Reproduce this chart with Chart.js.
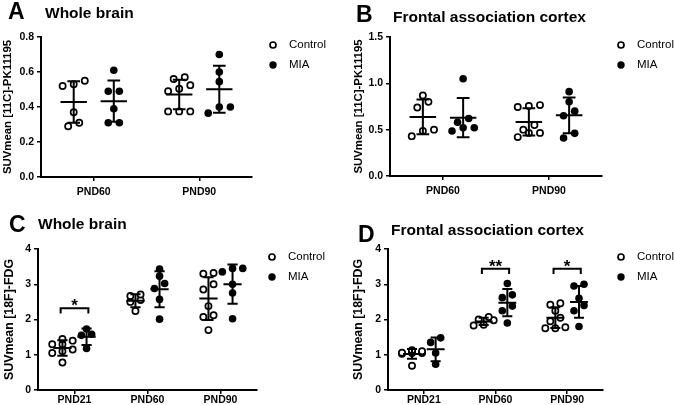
<!DOCTYPE html>
<html>
<head>
<meta charset="utf-8">
<script src="https://cdn.jsdelivr.net/npm/chart.js@4.4.1/dist/chart.umd.min.js"></script>
<style>
  html, body { margin: 0; padding: 0; background: #fff; }
  #wrap { position: relative; width: 676px; height: 405px; overflow: hidden; }
  canvas { position: absolute; }
</style>
</head>
<body>
<div id="wrap">
  <canvas id="panelA" width="338" height="200" style="left:0;top:0"></canvas>
  <canvas id="panelB" width="338" height="200" style="left:338px;top:0"></canvas>
  <canvas id="panelC" width="338" height="205" style="left:0;top:200px"></canvas>
  <canvas id="panelD" width="338" height="205" style="left:338px;top:200px"></canvas>
</div>
<script>
const groupNames = ["Control", "MIA"];
const daysPk = ["PND60", "PND90"];
const daysFdg = ["PND21", "PND60", "PND90"];
const ticksPkWhole = [0, 0.2, 0.4, 0.6, 0.8];
const ticksPkFrontal = [0, 0.5, 1.0, 1.5];
const ticksFdg = [0, 1, 2, 3, 4];

// SUVmean [11C]-PK11195, one inner array per day
const pkWholeControl = [
  [0.29, 0.31, 0.37, 0.52, 0.53, 0.55],
  [0.375, 0.375, 0.375, 0.49, 0.505, 0.525, 0.56, 0.57],
];
const pkWholeMia = [
  [0.31, 0.31, 0.39, 0.49, 0.49, 0.61],
  [0.365, 0.40, 0.40, 0.545, 0.60, 0.70],
];
const pkFrontalControl = [
  [0.43, 0.485, 0.50, 0.74, 0.80, 0.87],
  [0.42, 0.465, 0.465, 0.50, 0.55, 0.745, 0.755, 0.765],
];
const pkFrontalMia = [
  [0.485, 0.52, 0.52, 0.58, 0.62, 1.05],
  [0.41, 0.46, 0.65, 0.70, 0.80, 0.91],
];

// SUVmean [18F]-FDG
const fdgWholeControl = [
  [0.78, 1.05, 1.1, 1.15, 1.3, 1.3, 1.4, 1.45],
  [2.24, 2.50, 2.55, 2.67, 2.71],
  [1.70, 2.07, 2.12, 2.38, 2.85, 3.0, 3.30, 3.32],
];
const fdgWholeMia = [
  [1.18, 1.55, 1.58, 1.73],
  [2.01, 2.57, 2.88, 3.02, 3.23, 3.43],
  [2.02, 2.75, 3.0, 3.35, 3.45, 3.45],
];
const fdgFrontalControl = [
  [0.69, 1.03, 1.05, 1.05, 1.06, 1.08, 1.1, 1.13],
  [1.83, 1.85, 1.98, 2.0, 2.07],
  [1.75, 1.75, 1.78, 1.95, 2.05, 2.25, 2.42, 2.46],
];
const fdgFrontalMia = [
  [0.73, 1.05, 1.35, 1.48],
  [1.9, 2.25, 2.38, 2.62, 2.70, 3.02],
  [1.8, 2.25, 2.4, 2.6, 2.95, 3.0],
];

// significance brackets: [day index, bracket level, label]
const sigFdgWhole = [[0, 2.32, "*"]];
const sigFdgFrontal = [[1, 3.44, "**"], [2, 3.44, "*"]];

const FONT = '"Liberation Sans", Arial, sans-serif';

const mean = (a) => a.reduce((s, v) => s + v, 0) / a.length;
const sd = (a) => {
  const m = mean(a);
  return Math.sqrt(a.reduce((s, v) => s + (v - m) ** 2, 0) / (a.length - 1));
};

// points that land on the same row go side by side, like a dot plot
function swarm(values, center, rowH, step, maxRow) {
  const sorted = [...values].sort((a, b) => a - b);
  const out = [];
  let i = 0;
  while (i < sorted.length) {
    let j = i;
    while (j + 1 < sorted.length && j - i + 1 < maxRow && sorted[j + 1] - sorted[i] < rowH) j++;
    const k = j - i + 1;
    for (let n = 0; n < k; n++) out.push({ x: center + (n - (k - 1) / 2) * step, y: sorted[i + n] });
    i = j + 1;
  }
  return out;
}

function errorBars(groups, offset, barHalf, capHalf) {
  const pts = [];
  groups.forEach((vals, i) => {
    const x = i + offset, m = mean(vals), s = sd(vals);
    pts.push({ x: x - barHalf, y: m }, { x: x + barHalf, y: m }, { x, y: null });
    pts.push({ x, y: m - s }, { x, y: m + s }, { x, y: null });
    pts.push({ x: x - capHalf, y: m + s }, { x: x + capHalf, y: m + s }, { x, y: null });
    pts.push({ x: x - capHalf, y: m - s }, { x: x + capHalf, y: m - s }, { x, y: null });
  });
  return pts;
}

function brackets(sig, half, drop) {
  const pts = [];
  sig.forEach(([i, level]) => {
    pts.push({ x: i - half, y: level - drop }, { x: i - half, y: level },
      { x: i + half, y: level }, { x: i + half, y: level - drop }, { x: i, y: null });
  });
  return pts;
}

const decor = {
  id: "decor",
  afterDraw(chart, args, o) {
    const ctx = chart.ctx;
    ctx.save();
    ctx.fillStyle = "#000";
    ctx.strokeStyle = "#000";
    ctx.textAlign = "left";
    ctx.textBaseline = "alphabetic";
    ctx.font = `bold 23px ${FONT}`;
    ctx.fillText(o.letter, o.letterX, o.letterY);
    ctx.font = `bold 15.5px ${FONT}`;
    ctx.fillText(o.title, o.titleX, o.titleY);

    ctx.font = `11.5px ${FONT}`;
    ctx.textBaseline = "middle";
    groupNames.forEach((name, i) => {
      const y = o.legendY + i * 20;
      ctx.beginPath();
      ctx.arc(o.legendX, y, i === 0 ? 3 : 3.7, 0, Math.PI * 2);
      if (i === 0) {
        ctx.fillStyle = "#fff";
        ctx.fill();
        ctx.lineWidth = 1.7;
        ctx.stroke();
      } else {
        ctx.fillStyle = "#000";
        ctx.fill();
      }
      ctx.fillStyle = "#000";
      ctx.fillText(name, o.legendX + 16, y);
    });

    const xs = chart.scales.x, ys = chart.scales.y;
    ctx.font = `bold 17px ${FONT}`;
    ctx.textAlign = "center";
    ctx.textBaseline = "alphabetic";
    (o.sig || []).forEach(([i, level, label]) => {
      ctx.fillText(label, xs.getPixelForValue(i), ys.getPixelForValue(level) + 3);
    });
    ctx.restore();
  },
};
Chart.register(decor);

function makePanel(id, cfg) {
  const n = cfg.days.length;
  const axisFont = { family: FONT, size: 10.5, weight: "bold" };
  const gridStyle = { drawOnChartArea: false, color: "#000", tickLength: 4, lineWidth: 1.5 };
  const borderStyle = { color: "#000", width: 2 };
  new Chart(document.getElementById(id), {
    type: "scatter",
    data: {
      datasets: [
        {
          type: "line",
          label: "mean ± SD",
          data: [
            ...errorBars(cfg.control, -cfg.offset, cfg.barHalf, cfg.capHalf),
            ...errorBars(cfg.mia, cfg.offset, cfg.barHalf, cfg.capHalf),
          ],
          borderColor: "#000",
          borderWidth: 2,
          pointRadius: 0,
          spanGaps: false,
          order: 0,
        },
        {
          type: "line",
          label: "significance",
          data: brackets(cfg.sig || [], 0.19, 0.15),
          borderColor: "#000",
          borderWidth: 2,
          pointRadius: 0,
          spanGaps: false,
          order: 0,
        },
        {
          label: groupNames[0],
          data: cfg.control.flatMap((v, i) => swarm(v, i - cfg.offset, cfg.rowH, cfg.step, cfg.maxRow)),
          backgroundColor: "#fff",
          borderColor: "#000",
          borderWidth: 1.7,
          pointRadius: 3.1,
          order: 1,
        },
        {
          label: groupNames[1],
          data: cfg.mia.flatMap((v, i) => swarm(v, i + cfg.offset, cfg.rowH, cfg.step, cfg.maxRow)),
          backgroundColor: "#000",
          borderColor: "#000",
          borderWidth: 0,
          pointRadius: 3.8,
          order: 1,
        },
      ],
    },
    options: {
      responsive: false,
      animation: false,
      events: [],
      layout: { padding: cfg.pad },
      plugins: {
        legend: { display: false },
        tooltip: { enabled: false },
        decor: cfg.decor,
      },
      scales: {
        x: {
          type: "linear",
          min: -0.5,
          max: n - 0.5,
          afterBuildTicks: (s) => { s.ticks = cfg.days.map((d, i) => ({ value: i })); },
          afterFit: (s) => { s.height = cfg.xH; },
          ticks: {
            callback: (v) => cfg.days[v],
            color: "#000",
            font: axisFont,
            padding: cfg.xPad,
            maxRotation: 0,
            autoSkip: false,
          },
          grid: gridStyle,
          border: borderStyle,
        },
        y: {
          type: "linear",
          min: 0,
          max: cfg.ticks[cfg.ticks.length - 1],
          afterBuildTicks: (s) => { s.ticks = cfg.ticks.map((v) => ({ value: v })); },
          afterFit: (s) => { s.width = cfg.yW; },
          ticks: {
            callback: (v) => v.toFixed(cfg.decimals),
            color: "#000",
            font: axisFont,
            padding: 3,
          },
          grid: gridStyle,
          border: borderStyle,
          title: {
            display: true,
            text: cfg.yTitle,
            color: "#000",
            font: { family: FONT, size: cfg.yTitleSize, weight: "bold" },
            padding: { top: cfg.yTitlePad, bottom: 0 },
          },
        },
      },
    },
  });
}

makePanel("panelA", {
  days: daysPk, control: pkWholeControl, mia: pkWholeMia, ticks: ticksPkWhole, decimals: 1,
  yTitle: "SUVmean [11C]-PK11195", yTitleSize: 11.4, yTitlePad: 1.5,
  offset: 0.19, barHalf: 0.125, capHalf: 0.06, rowH: 0.04, step: 0.105, maxRow: 3,
  pad: { left: 0, top: 37, right: 86, bottom: 0 }, yW: 41, xH: 23, xPad: 5,
  decor: { letter: "A", letterX: 8, letterY: 19, title: "Whole brain", titleX: 45, titleY: 17.5, legendX: 273, legendY: 45 },
});

makePanel("panelB", {
  days: daysPk, control: pkFrontalControl, mia: pkFrontalMia, ticks: ticksPkFrontal, decimals: 1,
  yTitle: "SUVmean [11C]-PK11195", yTitleSize: 11.4, yTitlePad: 14,
  offset: 0.19, barHalf: 0.125, capHalf: 0.06, rowH: 0.075, step: 0.105, maxRow: 3,
  pad: { left: 0, top: 37, right: 74, bottom: 0 }, yW: 52, xH: 24, xPad: 5,
  decor: { letter: "B", letterX: 18, letterY: 22, title: "Frontal association cortex", titleX: 55, titleY: 22, legendX: 283, legendY: 45 },
});

makePanel("panelC", {
  days: daysFdg, control: fdgWholeControl, mia: fdgWholeMia, ticks: ticksFdg, decimals: 0,
  yTitle: "SUVmean [18F]-FDG", yTitleSize: 12.4, yTitlePad: 1.7,
  offset: 0.165, barHalf: 0.125, capHalf: 0.07, rowH: 0.16, step: 0.14, maxRow: 3,
  pad: { left: 0, top: 49, right: 81, bottom: 0 }, yW: 38, xH: 15, xPad: 0,
  sig: sigFdgWhole,
  decor: { letter: "C", letterX: 9, letterY: 32, title: "Whole brain", titleX: 38, titleY: 29.3, legendX: 272, legendY: 57, sig: sigFdgWhole },
});

makePanel("panelD", {
  days: daysFdg, control: fdgFrontalControl, mia: fdgFrontalMia, ticks: ticksFdg, decimals: 0,
  yTitle: "SUVmean [18F]-FDG", yTitleSize: 12.4, yTitlePad: 13.4,
  offset: 0.165, barHalf: 0.125, capHalf: 0.07, rowH: 0.16, step: 0.14, maxRow: 3,
  pad: { left: 0, top: 49, right: 73, bottom: 0 }, yW: 50, xH: 15, xPad: 0,
  sig: sigFdgFrontal,
  decor: { letter: "D", letterX: 20, letterY: 41.7, title: "Frontal association cortex", titleX: 53, titleY: 35, legendX: 283, legendY: 57, sig: sigFdgFrontal },
});
</script>
</body>
</html>
